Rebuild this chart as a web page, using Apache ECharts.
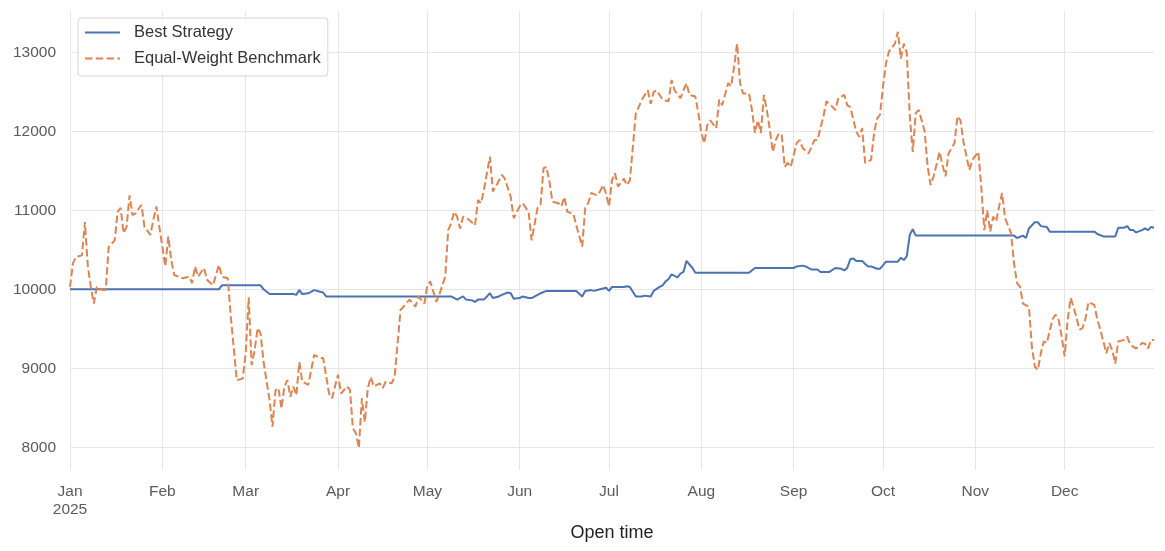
<!DOCTYPE html>
<html>
<head>
<meta charset="utf-8">
<script src="https://cdn.jsdelivr.net/npm/echarts@6/dist/echarts.min.js"></script>
<style>
  html, body { margin: 0; padding: 0; background: #fff; }
  #chart { width: 1165px; height: 551px; }
</style>
</head>
<body>
<div id="chart"></div>
<script>
const YEAR = '2025';
const monthNames = ['Jan', 'Feb', 'Mar', 'Apr', 'May', 'Jun', 'Jul', 'Aug', 'Sep', 'Oct', 'Nov', 'Dec'];
const yTicks = [8000, 9000, 10000, 11000, 12000, 13000];

// Best Strategy (month-day, value)
const strategyDays = [
  '01-01', '02-20', '02-21', '03-06', '03-07', '03-09', '03-17', '03-18', '03-19', '03-20',
  '03-22', '03-24', '03-26', '03-27', '03-28', '05-09', '05-11', '05-13', '05-14', '05-16',
  '05-17', '05-18', '05-20', '05-22', '05-23', '05-25', '05-26', '05-28', '05-29', '05-30',
  '06-01', '06-02', '06-04', '06-05', '06-07', '06-08', '06-10', '06-20', '06-22', '06-23',
  '06-25', '06-26', '06-28', '06-30', '07-01', '07-02', '07-06', '07-07', '07-08', '07-10',
  '07-12', '07-13', '07-15', '07-16', '07-18', '07-19', '07-20', '07-21', '07-22', '07-24',
  '07-25', '07-26', '07-27', '07-29', '07-30', '08-17', '08-19', '09-01', '09-02', '09-04',
  '09-05', '09-07', '09-09', '09-10', '09-13', '09-15', '09-17', '09-18', '09-19', '09-20',
  '09-21', '09-22', '09-24', '09-25', '09-26', '09-27', '09-29', '09-30', '10-02', '10-06',
  '10-07', '10-08', '10-09', '10-10', '10-11', '10-12', '11-14', '11-15', '11-17', '11-18',
  '11-19', '11-21', '11-22', '11-23', '11-25', '11-26', '12-11', '12-12', '12-14', '12-18',
  '12-19', '12-21', '12-22', '12-23', '12-24', '12-25', '12-27', '12-28', '12-29', '12-30',
  '12-31'
];
const strategyValues = [
  10000, 10000, 10050, 10050, 10000, 9940, 9940, 9930, 9990, 9940,
  9950, 9990, 9970, 9960, 9910, 9910, 9870, 9910, 9870, 9860,
  9840, 9870, 9870, 9950, 9890, 9910, 9930, 9960, 9950, 9880,
  9890, 9910, 9890, 9890, 9930, 9950, 9980, 9980, 9910, 9980,
  9990, 9980, 10000, 10020, 9980, 10030, 10030, 10040, 10030, 9910,
  9910, 9920, 9910, 9980, 10030, 10050, 10100, 10130, 10190, 10150,
  10200, 10220, 10360, 10270, 10210, 10210, 10270, 10270, 10290, 10300,
  10290, 10250, 10250, 10220, 10220, 10270, 10260, 10240, 10270, 10380,
  10390, 10360, 10360, 10320, 10290, 10290, 10260, 10260, 10350, 10350,
  10400, 10370, 10420, 10690, 10760, 10680, 10680, 10650, 10680, 10650,
  10770, 10850, 10850, 10800, 10790, 10730, 10730, 10700, 10670, 10670,
  10780, 10780, 10800, 10750, 10750, 10720, 10750, 10770, 10750, 10790,
  10780
];

// Equal-Weight Benchmark (month-day, value)
const benchDays = [
  '01-01', '01-02', '01-03', '01-05', '01-06', '01-07', '01-08', '01-09', '01-10', '01-12',
  '01-13', '01-14', '01-16', '01-17', '01-18', '01-19', '01-20', '01-21', '01-22', '01-23',
  '01-25', '01-26', '01-28', '01-29', '01-30', '01-31', '02-02', '02-03', '02-04', '02-05',
  '02-08', '02-10', '02-11', '02-12', '02-13', '02-15', '02-16', '02-18', '02-20', '02-21',
  '02-23', '02-24', '02-26', '02-28', '03-01', '03-02', '03-03', '03-04', '03-05', '03-06',
  '03-07', '03-09', '03-10', '03-11', '03-12', '03-13', '03-14', '03-15', '03-16', '03-17',
  '03-18', '03-19', '03-20', '03-22', '03-24', '03-26', '03-27', '03-29', '03-30', '04-01',
  '04-02', '04-04', '04-05', '04-06', '04-07', '04-08', '04-09', '04-10', '04-11', '04-12',
  '04-13', '04-15', '04-16', '04-17', '04-19', '04-20', '04-22', '04-23', '04-25', '04-27',
  '04-28', '04-30', '05-01', '05-02', '05-04', '05-05', '05-07', '05-08', '05-09', '05-10',
  '05-11', '05-12', '05-13', '05-15', '05-17', '05-18', '05-19', '05-20', '05-22', '05-23',
  '05-24', '05-26', '05-27', '05-29', '05-30', '06-01', '06-02', '06-04', '06-05', '06-07',
  '06-08', '06-09', '06-10', '06-11', '06-12', '06-14', '06-15', '06-16', '06-17', '06-19',
  '06-20', '06-22', '06-23', '06-24', '06-25', '06-27', '06-28', '06-29', '06-30', '07-01',
  '07-02', '07-03', '07-04', '07-06', '07-07', '07-08', '07-09', '07-10', '07-11', '07-12',
  '07-14', '07-15', '07-16', '07-17', '07-19', '07-21', '07-22', '07-23', '07-25', '07-26',
  '07-27', '07-28', '07-30', '07-31', '08-01', '08-02', '08-03', '08-04', '08-06', '08-07',
  '08-08', '08-10', '08-11', '08-12', '08-13', '08-14', '08-15', '08-17', '08-18', '08-19',
  '08-20', '08-21', '08-22', '08-23', '08-24', '08-25', '08-26', '08-27', '08-28', '08-29',
  '08-30', '08-31', '09-02', '09-03', '09-04', '09-06', '09-08', '09-09', '09-11', '09-12',
  '09-14', '09-15', '09-16', '09-18', '09-19', '09-20', '09-22', '09-23', '09-24', '09-25',
  '09-27', '09-28', '09-29', '09-30', '10-01', '10-02', '10-03', '10-05', '10-06', '10-07',
  '10-08', '10-09', '10-10', '10-11', '10-12', '10-13', '10-15', '10-16', '10-17', '10-18',
  '10-20', '10-21', '10-22', '10-23', '10-25', '10-26', '10-27', '10-28', '10-30', '10-31',
  '11-02', '11-03', '11-04', '11-05', '11-06', '11-07', '11-08', '11-09', '11-10', '11-11',
  '11-13', '11-14', '11-15', '11-16', '11-17', '11-19', '11-20', '11-21', '11-22', '11-23',
  '11-24', '11-25', '11-27', '11-28', '11-29', '11-30', '12-01', '12-02', '12-03', '12-04',
  '12-06', '12-07', '12-08', '12-09', '12-11', '12-12', '12-13', '12-15', '12-16', '12-17',
  '12-18', '12-19', '12-21', '12-22', '12-23', '12-25', '12-27', '12-28', '12-29', '12-30',
  '12-31'
];
const benchValues = [
  10030, 10330, 10410, 10430, 10850, 10290, 10030, 9820, 10030, 9990,
  9990, 10540, 10620, 10980, 11030, 10710, 10790, 11190, 10940, 10960,
  11070, 10790, 10690, 10880, 11050, 10790, 10290, 10670, 10370, 10180,
  10140, 10160, 10080, 10290, 10160, 10270, 10120, 10050, 10310, 10160,
  10140, 9650, 8850, 8870, 9190, 9900, 9040, 9230, 9510, 9440,
  9080, 8600, 8260, 8720, 8750, 8490, 8770, 8850, 8640, 8770,
  8660, 9080, 8830, 8790, 9170, 9130, 9130, 8680, 8620, 8920,
  8680, 8770, 8730, 8240, 8180, 7990, 8620, 8320, 8750, 8890,
  8770, 8810, 8750, 8830, 8810, 8890, 9740, 9780, 9870, 9780,
  9910, 9820, 10050, 10100, 9840, 9930, 10160, 10750, 10840, 10980,
  10920, 10770, 10920, 10880, 10810, 11130, 11090, 11260, 11680, 11240,
  11300, 11450, 11400, 11170, 10900, 11050, 11090, 10980, 10620, 11030,
  11070, 11530, 11550, 11360, 11110, 11090, 11050, 11170, 10980, 10960,
  10810, 10540, 11030, 11090, 11220, 11190, 11240, 11320, 11210, 11050,
  11380, 11470, 11300, 11400, 11320, 11380, 11800, 12230, 12310, 12400,
  12520, 12350, 12500, 12520, 12400, 12380, 12650, 12520, 12420, 12520,
  12610, 12460, 12440, 12230, 11980, 11850, 12080, 12140, 12040, 12400,
  12330, 12610, 12570, 12820, 13110, 12610, 12480, 12480, 12270, 11980,
  12140, 11980, 12460, 12270, 12020, 11740, 11890, 11975, 11950, 11550,
  11600, 11550, 11850, 11890, 11790, 11720, 11890, 11890, 12190, 12380,
  12310, 12270, 12420, 12460, 12330, 12310, 12000, 11930, 12040, 11600,
  11640, 11980, 12160, 12210, 12570, 12860, 13010, 13110, 13260, 12920,
  13110, 12990, 12190, 11740, 12230, 12270, 12000, 11550, 11320, 11430,
  11740, 11570, 11430, 11720, 11850, 12190, 12140, 11870, 11510, 11640,
  11740, 11300, 10750, 11000, 10730, 10920, 10860, 11050, 11220, 10900,
  10710, 10330, 10080, 10030, 9820, 9780, 9270, 9020, 8980, 9190,
  9340, 9320, 9630, 9680, 9610, 9400, 9150, 9610, 9890, 9780,
  9490, 9510, 9630, 9840, 9800, 9610, 9490, 9190, 9320, 9230,
  9060, 9340, 9360, 9400, 9300, 9250, 9320, 9310, 9250, 9360,
  9360
];

const chart = echarts.init(document.getElementById('chart'), null, { renderer: 'canvas' });

function pairs(days, values) {
  return days.map((d, i) => [YEAR + '-' + d, values[i]]);
}

const FONT = '"Liberation Sans", Arial, sans-serif';

const option = {
  backgroundColor: '#ffffff',
  animation: false,
  textStyle: { fontFamily: FONT },
  grid: { left: 70, right: 11, top: 11, bottom: 81 },
  legend: {
    orient: 'vertical',
    left: 78,
    top: 18,
    padding: [6, 7, 9, 6],
    itemWidth: 35,
    itemHeight: 14,
    itemGap: 9,
    borderColor: '#d6d6d6',
    borderWidth: 1,
    borderRadius: 3,
    backgroundColor: 'rgba(255,255,255,0.8)',
    // hide the marker dot, keep only the line sample
    itemStyle: { color: 'transparent', borderColor: 'transparent', borderWidth: 0, opacity: 0 },
    textStyle: { fontFamily: FONT, fontSize: 16.5, color: '#333333', padding: [0, 0, 0, 9] },
    data: ['Best Strategy', 'Equal-Weight Benchmark']
  },
  xAxis: {
    type: 'time',
    min: YEAR + '-01-01',
    max: YEAR + '-12-31',
    splitNumber: 12,
    minInterval: 28 * 86400000,
    maxInterval: 31 * 86400000,
    name: 'Open time',
    nameLocation: 'middle',
    nameGap: 51,
    nameTextStyle: { fontFamily: FONT, fontSize: 18, color: '#222222' },
    axisLine: { show: false },
    axisTick: { show: false },
    axisLabel: {
      fontFamily: FONT,
      fontSize: 15.5,
      color: '#5a5a5a',
      margin: 13,
      lineHeight: 18,
      formatter: function (value) {
        const m = new Date(value).getMonth();
        return m === 0 ? monthNames[0] + '\n' + YEAR : monthNames[m];
      }
    },
    splitLine: { show: true, showMaxLine: false, lineStyle: { color: '#e6e6e6', width: 1 } }
  },
  yAxis: {
    type: 'value',
    min: 7713,
    max: 13523,
    splitNumber: 5,
    axisLine: { show: false },
    axisTick: { show: false },
    axisLabel: {
      fontFamily: FONT,
      fontSize: 15.5,
      color: '#5a5a5a',
      margin: 14,
      showMinLabel: false,
      showMaxLabel: false,
      formatter: function (v) { return yTicks.indexOf(v) >= 0 ? String(v) : ''; }
    },
    splitLine: { show: true, showMinLine: false, showMaxLine: false, lineStyle: { color: '#e6e6e6', width: 1 } }
  },
  series: [
    {
      name: 'Best Strategy',
      type: 'line',
      showSymbol: false,
      symbol: 'none',
      color: '#4c72b0',
      lineStyle: { color: '#4c72b0', width: 2 },
      data: pairs(strategyDays, strategyValues)
    },
    {
      name: 'Equal-Weight Benchmark',
      type: 'line',
      showSymbol: false,
      symbol: 'none',
      color: '#dd8452',
      lineStyle: { color: '#dd8452', width: 2, type: [7.5, 3.3], cap: 'butt' },
      data: pairs(benchDays, benchValues)
    }
  ]
};

chart.setOption(option);
</script>
</body>
</html>
